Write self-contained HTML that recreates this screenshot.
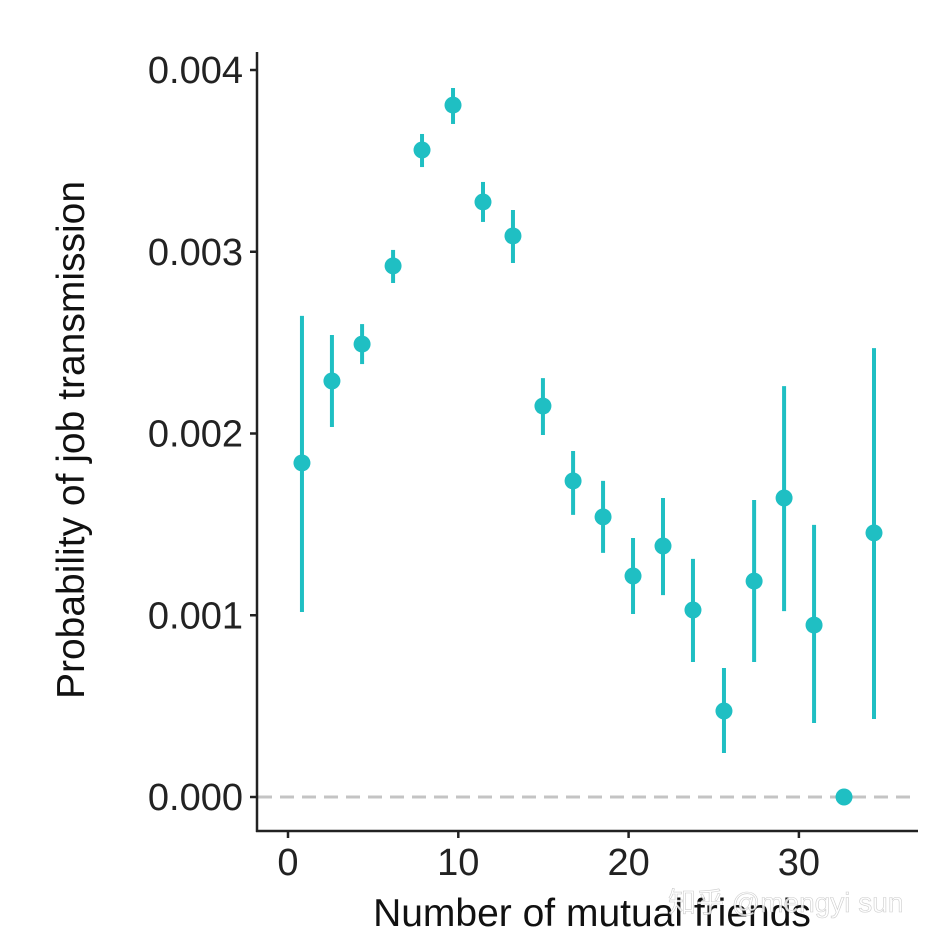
<!DOCTYPE html>
<html><head><meta charset="utf-8"><style>
html,body{margin:0;padding:0;background:#fff;}
svg{display:block;font-family:"Liberation Sans","Noto Sans CJK SC",sans-serif;}
</style></head><body>
<svg id="chart" width="928" height="944" viewBox="0 0 928 944" xmlns="http://www.w3.org/2000/svg">
<g id="grid"></g>
<g id="axes"></g>
<g id="marks"></g>
<text x="84" y="440" font-size="39" fill="#111" text-anchor="middle" transform="rotate(-90 84 440)">Probability of job transmission</text>
<text x="592" y="926" font-size="39" fill="#111" text-anchor="middle">Number of mutual friends</text>
<text x="668" y="912" font-size="28" fill="#fff" fill-opacity="0.85" stroke="#999" stroke-width="0.6" stroke-opacity="0.5">知乎 @mengyi sun</text>
</svg>
<script>
const xs = [0.82,2.58,4.35,6.17,7.87,9.69,11.45,13.21,14.97,16.74,18.5,20.26,22.02,23.78,25.6,27.37,29.13,30.89,32.65,34.41];
const ys = [0.001838,0.002289,0.002492,0.002922,0.00356,0.003807,0.003274,0.003087,0.002151,0.001739,0.001541,0.001216,0.001381,0.001029,0.000473,0.001188,0.001645,0.000946,0,0.001453];
const lo = [0.001018,0.002036,0.002382,0.002828,0.003466,0.003703,0.003164,0.002938,0.001992,0.001552,0.001343,0.001007,0.001111,0.000743,0.000242,0.000743,0.001023,0.000407,0,0.000429];
const hi = [0.002647,0.002542,0.002602,0.00301,0.003648,0.003901,0.003384,0.00323,0.002305,0.001904,0.001739,0.001425,0.001645,0.00131,0.00071,0.001634,0.002261,0.001497,0,0.00247];
const xTicks = [0,10,20,30];
const yTicks = [0,0.001,0.002,0.003,0.004];
const yTickLabels = ["0.000","0.001","0.002","0.003","0.004"];

const NS="http://www.w3.org/2000/svg";
const X = v => 288 + v*17.03;
const Y = v => 797 - v*181750;
const C = "#1fbfc3";
function mk(tag, attrs, parent){const e=document.createElementNS(NS,tag);for(const k in attrs)e.setAttribute(k,attrs[k]);parent.appendChild(e);return e;}
const axes=document.getElementById('axes'), marks=document.getElementById('marks'), grid=document.getElementById('grid');

const zl = mk('line',{x1:258,x2:918,y1:Y(0),y2:Y(0),stroke:'#c4c4c4','stroke-width':3,'stroke-dasharray':'14 8'},grid);



const ya = mk('line',{x1:257,x2:257,y1:52,y2:832,stroke:'#222','stroke-width':2.5},axes);


const xa = mk('line',{x1:256,x2:918,y1:831,y2:831,stroke:'#222','stroke-width':2.5},axes);



yTicks.forEach((t,i)=>{
  const tk=mk('line',{x1:250,x2:257,y1:Y(t),y2:Y(t),stroke:'#222','stroke-width':2.5},axes);
  
  
  const lb=mk('text',{x:243,y:Y(t)+13,'font-size':38,fill:'#222','text-anchor':'end'},axes);
  lb.textContent=yTickLabels[i];
  
  
});
xTicks.forEach(t=>{
  const tk=mk('line',{x1:X(t),x2:X(t),y1:831,y2:838,stroke:'#222','stroke-width':2.5},axes);
  
  
  const lb=mk('text',{x:X(t),y:875,'font-size':38,fill:'#222','text-anchor':'middle'},axes);
  lb.textContent=String(t);
  
  
});
xs.forEach((x,i)=>{
  const eb=mk('line',{x1:X(x),x2:X(x),y1:Y(lo[i]),y2:Y(hi[i]),stroke:C,'stroke-width':4},marks);
  
  
  const pt=mk('circle',{cx:X(x),cy:Y(ys[i]),r:8.5,fill:C},marks);
  
  
});
</script>
</body></html>
